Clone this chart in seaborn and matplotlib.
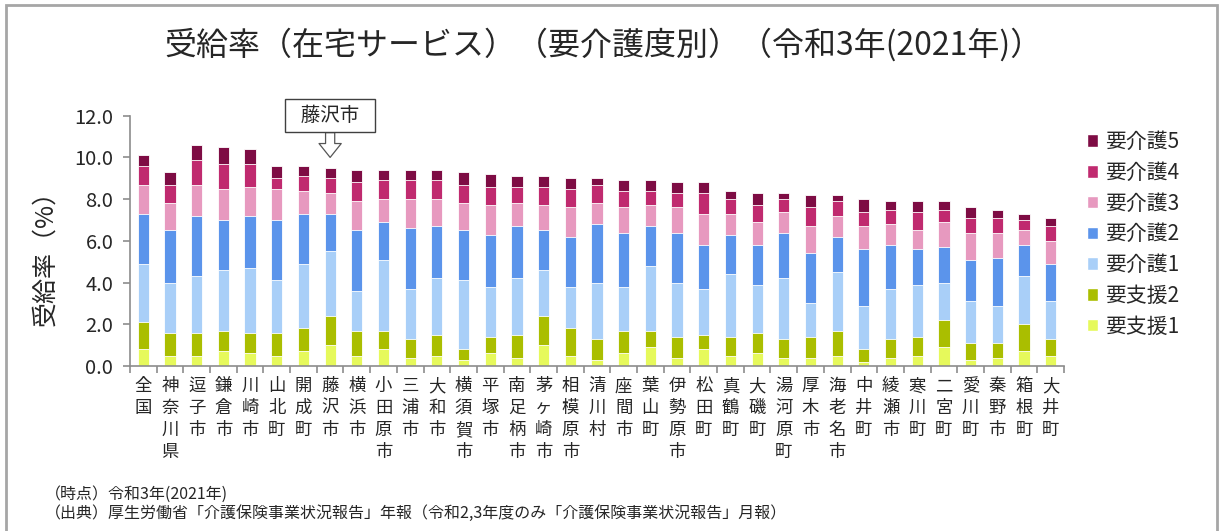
import numpy as np
import pandas as pd
import matplotlib
matplotlib.use("Agg")
import matplotlib.pyplot as plt
import seaborn as sns
from matplotlib.patches import Patch, Rectangle

# 市町村（受給率の合計が高い順）
municipalities = [
    "全国", "神奈川県", "逗子市", "鎌倉市", "川崎市", "山北町", "開成町", "藤沢市",
    "横浜市", "小田原市", "三浦市", "大和市", "横須賀市", "平塚市", "南足柄市",
    "茅ヶ崎市", "相模原市", "清川村", "座間市", "葉山町", "伊勢原市", "松田町",
    "真鶴町", "大磯町", "湯河原町", "厚木市", "海老名市", "中井町", "綾瀬市",
    "寒川町", "二宮町", "愛川町", "秦野市", "箱根町", "大井町",
]

# 要介護度別の受給率（%）
shien1 = [0.8, 0.5, 0.5, 0.7, 0.6, 0.5, 0.7, 1.0, 0.5, 0.8, 0.4, 0.5, 0.3, 0.6, 0.4,
          1.0, 0.5, 0.3, 0.6, 0.9, 0.4, 0.8, 0.5, 0.6, 0.4, 0.4, 0.5, 0.2, 0.4,
          0.5, 0.9, 0.3, 0.4, 0.7, 0.5]
shien2 = [1.3, 1.1, 1.1, 1.0, 1.0, 1.1, 1.1, 1.4, 1.2, 0.9, 0.9, 1.0, 0.5, 0.8, 1.1,
          1.4, 1.3, 1.0, 1.1, 0.8, 1.0, 0.7, 0.9, 1.0, 0.9, 1.0, 1.2, 0.6, 0.9,
          0.9, 1.3, 0.8, 0.7, 1.3, 0.8]
kaigo1 = [2.8, 2.4, 2.7, 2.9, 3.1, 2.5, 3.1, 3.1, 1.9, 3.4, 2.4, 2.7, 3.3, 2.4, 2.7,
          2.2, 2.0, 2.7, 2.1, 3.1, 2.6, 2.2, 3.0, 2.3, 2.9, 1.6, 2.8, 2.1, 2.4,
          2.5, 1.8, 2.0, 1.8, 2.3, 1.8]
kaigo2 = [2.4, 2.5, 2.9, 2.4, 2.5, 2.9, 2.4, 1.8, 2.9, 1.8, 2.9, 2.5, 2.4, 2.5, 2.5,
          1.9, 2.4, 2.8, 2.6, 1.9, 2.4, 2.1, 1.9, 1.9, 2.2, 2.4, 1.7, 2.7, 2.1,
          1.7, 1.7, 2.0, 2.3, 1.5, 1.8]
kaigo3 = [1.4, 1.3, 1.5, 1.5, 1.4, 1.5, 1.1, 1.0, 1.4, 1.1, 1.4, 1.3, 1.3, 1.4, 1.1,
          1.2, 1.4, 1.0, 1.2, 1.0, 1.2, 1.5, 1.0, 1.1, 1.0, 1.3, 1.0, 1.1, 1.0,
          0.9, 1.2, 1.3, 1.2, 0.7, 1.1]
kaigo4 = [0.9, 0.9, 1.2, 1.2, 1.1, 0.5, 0.7, 0.7, 0.9, 0.9, 0.9, 0.9, 0.9, 0.9, 0.8,
          0.9, 0.9, 0.9, 0.8, 0.7, 0.7, 1.0, 0.7, 0.8, 0.6, 0.9, 0.7, 0.7, 0.7,
          0.9, 0.6, 0.7, 0.7, 0.5, 0.7]
kaigo5 = [0.5, 0.6, 0.7, 0.8, 0.7, 0.6, 0.5, 0.5, 0.6, 0.5, 0.5, 0.5, 0.6, 0.6, 0.5,
          0.5, 0.5, 0.3, 0.5, 0.5, 0.5, 0.5, 0.4, 0.6, 0.3, 0.6, 0.3, 0.6, 0.4,
          0.5, 0.4, 0.5, 0.4, 0.3, 0.4]

# 積み上げ順（下から上）
levels = ["要支援1", "要支援2", "要介護1", "要介護2", "要介護3", "要介護4", "要介護5"]
level_colors = ["#E6F95B", "#AABE00", "#A9CFF8", "#5B94EB", "#E799BF", "#C02A6F", "#7E0C44"]

highlight = "藤沢市"
title = "受給率（在宅サービス）（要介護度別）（令和3年(2021年)）"
y_label = "受給率（%）"
notes = [
    "（時点）令和3年(2021年)",
    "（出典）厚生労働省「介護保険事業状況報告」年報（令和2,3年度のみ「介護保険事業状況報告」月報）",
]
y_ticks = [0, 2, 4, 6, 8, 10, 12]

sns.set_style("white")
plt.rcParams["font.family"] = ["Noto Sans CJK JP", "DejaVu Sans"]

values = np.array([shien1, shien2, kaigo1, kaigo2, kaigo3, kaigo4, kaigo5])
cumulative = np.cumsum(values, axis=0)
df = pd.DataFrame(cumulative.T, columns=levels)
df.insert(0, "市町村", municipalities)

W, H = 1223, 531
fig = plt.figure(figsize=(W / 100, H / 100), dpi=100)
ax = fig.add_axes([130 / W, 1 - 366 / H, (1064 - 130) / W, (366 - 115.7) / H])

axis_gray = "#8C8C8C"

# 上の段から順に累積値で重ねて描く
for name, color in reversed(list(zip(levels, level_colors))):
    sns.barplot(data=df, x="市町村", y=name, color=color, saturation=1,
                width=0.42, edgecolor="white", linewidth=0.6, errorbar=None, ax=ax)

n = len(municipalities)
ax.set_xlim(-0.5, n - 0.5)
ax.set_ylim(0, 12)
ax.set_xlabel("")
ax.set_ylabel("")
sns.despine(ax=ax)
for side in ("left", "bottom"):
    ax.spines[side].set_color(axis_gray)
    ax.spines[side].set_linewidth(1.2)

ax.set_yticks(y_ticks)
ax.set_yticklabels([f"{v:.1f}" for v in y_ticks], fontsize=14.5)
ax.tick_params(axis="y", left=True, direction="out", length=5, width=1.2,
               color=axis_gray, pad=7)

ax.set_xticks(range(n))
ax.set_xticklabels(["\n".join(m) for m in municipalities], fontsize=12.5,
                   linespacing=1.28, va="top")
ax.set_xticks(np.arange(-0.5, n, 1.0), minor=True)
ax.tick_params(axis="x", which="major", bottom=True, length=0, pad=8)
ax.tick_params(axis="x", which="minor", bottom=True, direction="out", length=5,
               width=1.2, color=axis_gray)

# 強調する市の吹き出し
idx = municipalities.index(highlight)
total = cumulative[-1][idx]
ax.annotate("\u2002" + highlight + "\u2002", xy=(idx, total + 0.5), xytext=(0, 30),
            textcoords="offset points", ha="center", va="center", fontsize=14,
            bbox=dict(boxstyle="square,pad=0.3", fc="white", ec="#404040", lw=1),
            arrowprops=dict(arrowstyle="simple,head_length=0.5,head_width=0.8,tail_width=0.33",
                            fc="white", ec="#555555", lw=0.9, shrinkA=0, shrinkB=0,
                            mutation_scale=20))

# 凡例（要介護5が上）
handles = [Patch(facecolor=c) for c in reversed(level_colors)]
fig.legend(handles, list(reversed(levels)), loc="upper left",
           bbox_to_anchor=(1087 / W, 1 - 131 / H), frameon=False, fontsize=15,
           handlelength=0.55, handleheight=0.55, handletextpad=0.3,
           labelspacing=0.42, borderpad=0, borderaxespad=0)

fig.text(604 / W, 1 - 45 / H, title, ha="center", va="center", fontsize=23)
fig.text(45 / W, 1 - 252 / H, y_label, rotation=90, ha="center", va="center", fontsize=18)
fig.text(45 / W, 1 - 494 / H, notes[0], ha="left", va="center", fontsize=11.5)
fig.text(45 / W, 1 - 513 / H, notes[1], ha="left", va="center", fontsize=11.5)

fig.add_artist(Rectangle((6 / W, -0.02), 1211 / W, 1 - 5 / H + 0.02,
                         transform=fig.transFigure, fill=False,
                         ec="#A6A6A6", lw=2))

fig.savefig("out.png", dpi=100)
